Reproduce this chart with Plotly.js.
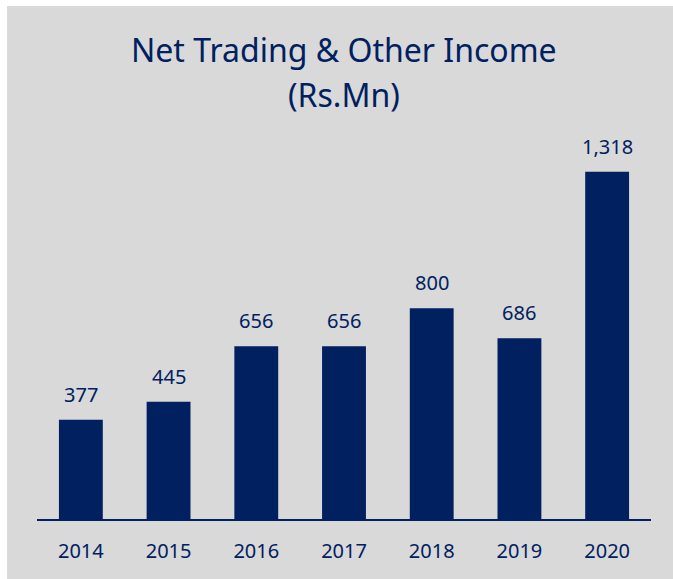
<!DOCTYPE html>
<html>
<head>
<meta charset="utf-8">
<script src="https://cdn.plot.ly/plotly-3.0.1.min.js"></script>
<style>
html,body{margin:0;padding:0;background:#ffffff;}
#chart{position:absolute;left:7px;top:6px;width:666px;height:573px;}
</style>
</head>
<body>
<div id="chart"></div>
<script>
const years = ["2014","2015","2016","2017","2018","2019","2020"];
const values = [377, 445, 656, 656, 800, 686, 1318];
const valueLabels = ["377","445","656","656","800","686","1,318"];
const titleLines = ["Net Trading & Other Income", "(Rs.Mn)"];

const navy = "#002060";
const font = "Noto Sans, Open Sans, sans-serif";

const trace = {
  type: "bar",
  x: years,
  y: values,
  marker: {color: navy},
  hoverinfo: "skip"
};

const annotations = years.map((y, i) => ({
  x: i, y: values[i], xref: "x", yref: "y",
  text: valueLabels[i], showarrow: false,
  yanchor: "bottom", yshift: 10,
  font: {family: font, size: 20, color: navy}
}));

annotations.push({
  x: 0.5, y: 1, xref: "paper", yref: "paper", xanchor: "center", yanchor: "middle",
  yshift: 57, text: titleLines[0], showarrow: false,
  font: {family: font, size: 32, color: navy}
});
annotations.push({
  x: 0.5, y: 1, xref: "paper", yref: "paper", xanchor: "center", yanchor: "middle",
  yshift: 12, text: titleLines[1], showarrow: false,
  font: {family: font, size: 32, color: navy}
});

const layout = {
  width: 666, height: 573,
  paper_bgcolor: "#d9d9d9",
  plot_bgcolor: "#d9d9d9",
  margin: {l: 30, r: 22, t: 100, b: 60},
  bargap: 0.5,
  showlegend: false,
  xaxis: {
    type: "category",
    range: [-0.5, 6.5],
    showline: true, linecolor: navy, linewidth: 2,
    ticks: "outside", ticklen: 13, tickcolor: "rgba(0,0,0,0)",
    tickfont: {family: font, size: 20, color: navy},
    showgrid: false, zeroline: false, fixedrange: true
  },
  yaxis: {
    range: [0, 1568],
    showgrid: false, zeroline: false, showticklabels: false,
    showline: false, fixedrange: true
  },
  annotations: annotations
};

Plotly.newPlot("chart", [trace], layout, {staticPlot: true, displayModeBar: false});
</script>
</body>
</html>
